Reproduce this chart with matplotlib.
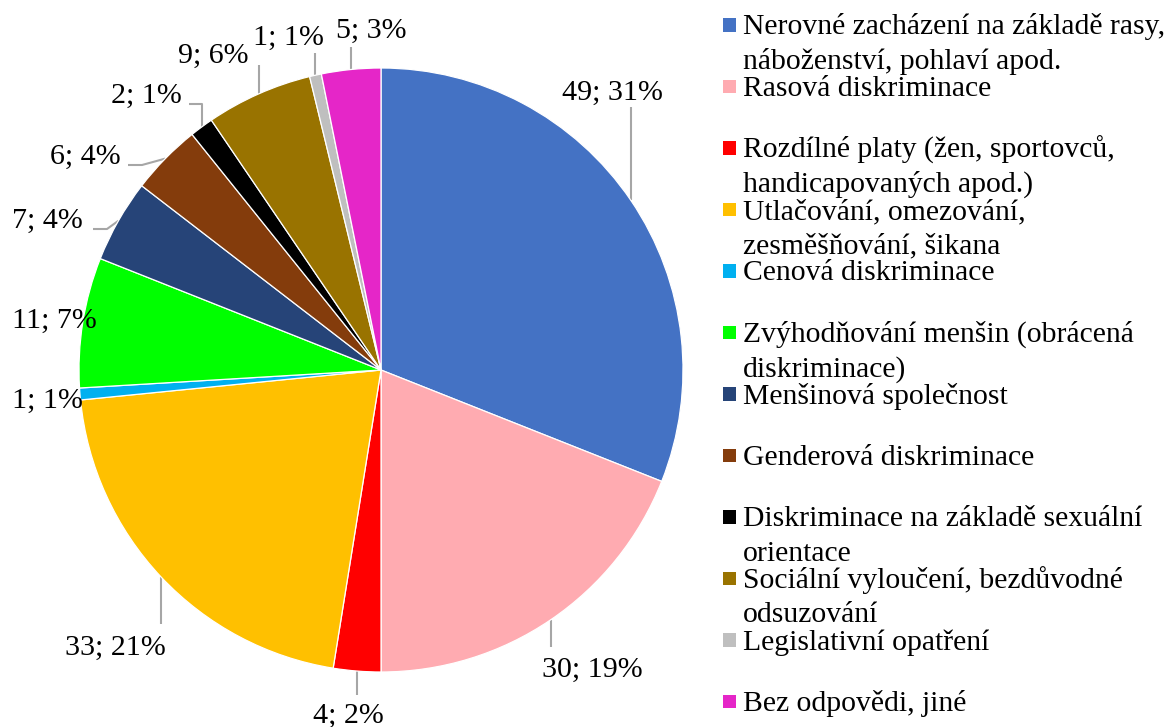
import matplotlib
matplotlib.use("Agg")
import matplotlib.pyplot as plt
from matplotlib.patches import Rectangle
import numpy as np

categories = [
    "Nerovné zacházení na základě rasy,\nnáboženství, pohlaví apod.",
    "Rasová diskriminace",
    "Rozdílné platy (žen, sportovců,\nhandicapovaných apod.)",
    "Utlačování, omezování,\nzesměšňování, šikana",
    "Cenová diskriminace",
    "Zvýhodňování menšin (obrácená\ndiskriminace)",
    "Menšinová společnost",
    "Genderová diskriminace",
    "Diskriminace na základě sexuální\norientace",
    "Sociální vyloučení, bezdůvodné\nodsuzování",
    "Legislativní opatření",
    "Bez odpovědi, jiné",
]
values = [49, 30, 4, 33, 1, 11, 7, 6, 2, 9, 1, 5]
percents = [31, 19, 2, 21, 1, 7, 4, 4, 1, 6, 1, 3]
colors = ["#4472C4", "#FFABB1", "#FF0000", "#FFC000", "#00B0F0", "#00FF00",
          "#264478", "#843C0C", "#000000", "#997300", "#BFBFBF", "#E526C8"]

W, H = 1164, 727
fig = plt.figure(figsize=(W / 100, H / 100), dpi=100)
fig.patch.set_facecolor("white")
FONT = "Liberation Serif"

# pie geometry in pixels
CX, CY, R = 381, 370, 302
ax = fig.add_axes([(CX - R) / W, (H - CY - R) / H, 2 * R / W, 2 * R / H])
wedges, _ = ax.pie(values, colors=colors, startangle=90, counterclock=False,
                   radius=1, wedgeprops=dict(edgecolor="white", linewidth=0.9))
ax.set_xlim(-1, 1)
ax.set_ylim(-1, 1)
ax.set_aspect("equal")
ax.axis("off")


def px2d(px, py):
    return (px - CX) / R, (CY - py) / R


# label layout: (center x px, baseline y px, knee points in px)
label_layout = [
    (612, 100, [("edge", 107)]),
    (592, 677, [("edge", 647)]),
    (348, 723, [("edge", 695)]),
    (115, 655, [("edge", 624)]),
    (47, 408, None),
    (54, 328, None),
    (47, 228, [(93, 229), (107, 229)]),
    (85, 164, [(128, 165), (142, 165)]),
    (146, 103, [(189, 104), ("edge", 104)]),
    (213, 63, [("edge", 65)]),
    (288, 45, [("edge", 53)]),
    (371, 38, [("edge", 47)]),
]

for w, v, p, (lx, ly, knees) in zip(wedges, values, percents, label_layout):
    mid = np.deg2rad((w.theta1 + w.theta2) / 2)
    ex, ey = np.cos(mid), np.sin(mid)
    tx, ty = px2d(lx, ly)
    ax.text(tx, ty, f"{v}; {p}%", ha="center", va="baseline",
            fontsize=21.6, family=FONT, color="black", clip_on=False)
    if knees:
        xs, ys = [], []
        for kx, ky in knees:
            dx, dy = px2d(0 if kx == "edge" else kx, ky)
            if kx == "edge":
                dx = ex
            xs.append(dx)
            ys.append(dy)
        xs.append(ex)
        ys.append(ey)
        ax.plot(xs, ys, color="#A6A6A6", lw=1.5, clip_on=False,
                solid_capstyle="butt", zorder=0.5)

# manual legend
LEG_X0, LEG_Y0, LEG_STEP = 722.5, 25, 61.5
MS = 13.5
for i, (cat, col) in enumerate(zip(categories, colors)):
    yc = LEG_Y0 + i * LEG_STEP
    fig.add_artist(Rectangle(((LEG_X0) / W, (H - yc - MS / 2) / H), MS / W, MS / H,
                             transform=fig.transFigure, facecolor=col,
                             edgecolor="none"))
    for j, line in enumerate(cat.split("\n")):
        fig.text(743 / W, (H - (yc + 9.5 + j * 34.5)) / H, line, ha="left",
                 va="baseline", fontsize=21.3, family=FONT, color="black")

fig.savefig("out.png", dpi=100, facecolor="white")
